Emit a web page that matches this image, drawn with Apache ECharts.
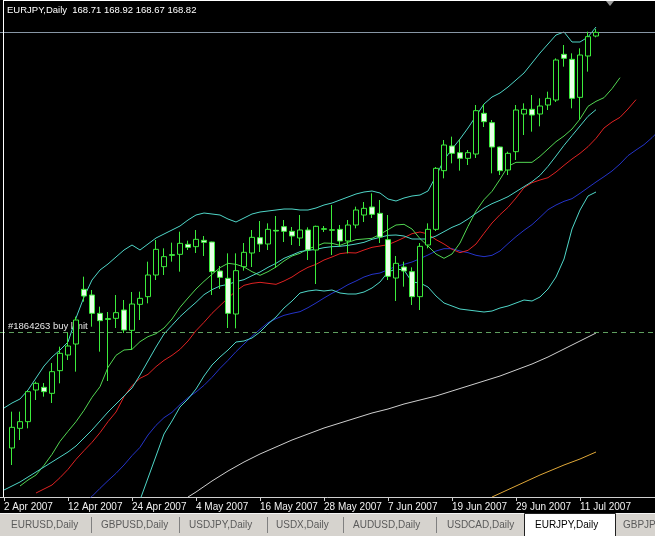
<!DOCTYPE html>
<html><head><meta charset="utf-8">
<script src="https://cdn.jsdelivr.net/npm/echarts@6/dist/echarts.min.js"></script>
<style>html,body{margin:0;padding:0;background:#000;}#c{width:655px;height:536px;}</style>
</head><body><div id="c"></div>
<script>
// ---------- data ----------
const symbolTitle = 'EURJPY,Daily';
const lastQuote = [168.71, 168.92, 168.67, 168.82]; // O H L C of last bar
const bidPrice = 168.82;
const buyLimitPrice = 159.83;
const buyLimitLabel = '#1864263 buy limit';
const barCount = 83;                 // 2 Apr 2007 + future (chart shift)
const tickIdx = [0, 8, 16, 24, 32, 40, 48, 56, 64, 72];
const tabs = ['EURUSD,Daily','GBPUSD,Daily','USDJPY,Daily','USDX,Daily','AUDUSD,Daily','USDCAD,Daily','EURJPY,Daily','GBPJPY,Daily'];
const activeTab = 6;

// candles from 3 Apr 2007 (index 1): [open, close, low, high]
const candles = [
[156.35,156.97,155.84,157.44],[156.94,157.14,156.59,157.44],[157.14,158.04,156.94,158.06],[158.09,158.29,157.79,158.34],
[158.17,158.04,157.89,158.30],[157.99,158.64,157.70,158.90],[158.67,159.19,158.29,159.39],[159.14,159.41,158.99,159.80],
[159.47,160.19,158.64,160.29],[161.11,160.91,160.74,161.49],[160.94,160.39,159.99,161.09],[160.39,160.17,159.24,160.59],
[160.23,160.21,158.36,160.43],[160.24,160.41,159.95,160.94],[160.49,159.89,159.80,160.79],[159.88,160.67,159.29,161.03],
[160.66,160.84,160.19,161.04],[160.89,161.54,160.69,161.94],[161.54,162.31,161.39,162.59],[161.79,162.09,161.54,162.34],
[162.15,162.13,161.94,162.51],[162.16,162.49,161.64,162.84],[162.46,162.37,162.29,162.57],[162.39,162.61,162.20,162.89],
[162.58,162.52,162.11,162.71],[162.53,161.64,160.94,162.54],[161.66,161.47,161.12,161.81],[161.44,160.39,159.95,162.19],
[160.37,161.67,159.94,162.19],[161.79,162.22,161.67,162.50],[162.20,162.67,161.78,162.89],[162.66,162.47,162.23,163.16],
[162.47,162.91,162.29,163.09],[162.88,162.86,161.75,163.31],[162.99,162.85,162.53,163.19],[162.85,162.71,162.44,162.98],
[162.65,162.89,162.41,163.34],[162.89,162.29,161.99,162.97],[162.29,163.00,161.27,163.02],[162.91,162.93,162.83,163.01],
[162.88,162.90,162.14,163.64],[162.91,162.56,162.39,163.04],[162.56,163.04,162.19,163.19],[163.04,163.49,162.94,163.59],
[163.34,163.54,163.13,163.73],[163.58,163.36,163.25,163.99],[163.39,162.68,162.50,163.79],[162.60,161.50,161.39,163.34],
[161.45,161.89,160.76,162.11],[161.78,161.66,161.19,161.94],[161.64,160.89,160.64,161.77],[160.89,162.40,160.49,162.50],
[162.44,162.91,162.34,163.09],[162.91,164.74,162.86,164.78],[164.67,165.44,164.44,165.59],[165.41,165.19,164.89,165.69],
[165.21,165.04,164.67,165.61],[165.04,165.21,164.84,165.29],[165.17,166.47,165.05,166.64],[166.39,166.14,165.98,166.67],
[166.11,165.38,164.59,166.19],[165.38,164.67,164.54,165.39],[164.69,165.19,164.54,165.24],[165.24,166.49,164.99,166.64],
[166.37,166.51,165.74,166.69],[166.51,166.34,165.84,166.94],[166.37,166.61,166.00,166.84],[166.64,166.84,166.49,167.04],
[166.79,167.99,166.73,168.04],[168.16,168.04,167.79,168.44],[168.01,166.84,166.54,168.19],[166.87,168.14,166.19,168.34],
[168.11,168.69,167.64,168.84],[168.71,168.82,168.67,168.92]
];

// Bollinger bands (cyan)
const bbUpperStart = 0;
const bbUpper = [157.55,157.70,157.82,158.09,158.45,158.81,159.08,159.29,159.53,160.25,160.88,161.39,161.69,161.87,162.08,162.29,162.44,162.29,162.47,162.65,
162.77,162.89,163.01,163.19,163.34,163.40,163.37,163.34,163.22,163.13,163.25,163.37,163.43,163.46,163.49,163.52,163.52,163.49,163.49,163.55,
163.64,163.70,163.79,163.88,163.97,164.03,164.06,164.00,163.82,163.76,163.85,163.91,163.94,164.06,164.51,164.99,165.32,165.62,165.95,166.31,
166.67,166.88,167.00,167.18,167.39,167.60,167.90,168.20,168.47,168.74,168.83,168.53,168.53,168.68,168.98];
const bbMidStart = 0;
const bbMid = [155.09,155.21,155.33,155.48,155.63,155.78,155.93,156.08,156.23,156.41,156.65,156.89,157.16,157.43,157.67,157.91,158.15,158.54,158.96,159.38,
159.77,160.03,160.29,160.51,160.72,160.95,161.10,161.21,161.26,161.34,161.40,161.52,161.63,161.77,161.89,162.04,162.14,162.24,162.28,162.31,
162.36,162.39,162.40,162.43,162.47,162.52,162.61,162.67,162.73,162.74,162.71,162.62,162.62,162.62,162.71,162.84,162.97,163.07,163.22,163.39,
163.55,163.68,163.78,163.89,164.04,164.19,164.34,164.53,164.80,165.11,165.43,165.72,166.01,166.30,166.50];
const bbLowStart = 17;
const bbLow = [154.79,155.45,156.11,156.77,157.16,157.58,157.82,158.12,158.51,158.84,159.08,159.29,159.53,159.56,159.65,159.83,160.07,160.28,160.55,160.76,
161.00,161.06,161.09,161.06,161.09,161.00,160.97,160.97,161.03,161.15,161.33,161.63,161.72,161.69,161.33,161.30,161.18,160.91,160.70,160.61,
160.52,160.49,160.46,160.43,160.46,160.55,160.61,160.70,160.79,160.76,160.88,161.12,161.48,162.02,162.92,163.49,163.91,164.03];

// Alligator: lips (green), teeth (red), jaw (blue) — drawn with their forward shift
const lipsStart = 2;
const lips = [155.21,155.39,155.54,155.83,156.16,156.55,156.85,157.14,157.48,157.87,158.19,158.77,159.13,159.29,159.31,159.54,159.69,159.78,159.95,160.22,
160.57,160.85,161.12,161.35,161.56,161.76,161.89,161.86,161.78,161.64,161.53,161.64,161.78,161.96,162.11,162.19,162.33,162.40,162.50,162.49,
162.43,162.52,162.60,162.62,162.64,162.76,162.90,163.04,163.06,162.92,162.63,162.41,162.17,162.04,162.17,162.50,163.00,163.46,163.80,164.05,
164.41,164.80,164.92,164.92,164.92,165.10,165.32,165.54,165.71,165.92,166.22,166.60,166.75,166.86,167.13,167.46];
const teethStart = 4;
const teeth = [155.00,155.12,155.24,155.46,155.71,156.01,156.27,156.52,156.81,157.14,157.43,157.89,158.22,158.44,158.56,158.79,158.98,159.13,159.31,159.56,
159.87,160.12,160.39,160.62,160.85,161.06,161.23,161.29,161.32,161.29,161.26,161.36,161.48,161.64,161.77,161.86,161.99,162.08,162.18,162.21,
162.20,162.29,162.37,162.41,162.45,162.55,162.66,162.78,162.83,162.77,162.60,162.47,162.31,162.21,162.28,162.47,162.79,163.10,163.35,163.57,
163.85,164.16,164.31,164.39,164.46,164.63,164.83,165.02,165.19,165.39,165.64,165.95,166.13,166.27,166.52,166.80];
const jawStart = 9;
const jaw = [154.49,154.69,154.90,155.14,155.37,155.59,155.84,156.12,156.37,156.74,157.03,157.26,157.42,157.65,157.86,158.03,158.23,158.47,158.74,158.98,
159.24,159.47,159.70,159.91,160.11,160.23,160.33,160.39,160.44,160.56,160.70,160.85,160.99,161.11,161.25,161.36,161.48,161.56,161.60,161.70,
161.80,161.86,161.93,162.03,162.14,162.26,162.33,162.33,162.26,162.21,162.13,162.09,162.13,162.26,162.48,162.69,162.88,163.05,163.27,163.50,
163.64,163.75,163.83,163.99,164.16,164.33,164.49,164.66,164.87,165.12,165.29,165.45,165.66,165.90];

// long moving averages: [barIndex, price]
const maWhite = [[23,154.88],[24,155.03],[26,155.36],[28,155.66],[30,155.93],[32,156.17],[34,156.38],[36,156.59],[38,156.77],[40,156.95],
[42,157.10],[44,157.25],[46,157.40],[48,157.52],[50,157.67],[52,157.79],[54,157.91],[56,158.06],[58,158.21],[60,158.36],[62,158.51],
[64,158.69],[66,158.87],[68,159.08],[70,159.32],[72,159.56],[74,159.80]];
const maOrange = [[61,154.88],[64,155.21],[67,155.54],[70,155.84],[72,156.02],[74,156.23]];

// ---------- build ----------
const months = ['Jan','Feb','Mar','Apr','May','Jun','Jul','Aug','Sep','Oct','Nov','Dec'];
const categories = [];
{ const d = new Date(Date.UTC(2007,3,2));
  while (categories.length < barCount) {
    const wd = d.getUTCDay();
    if (wd !== 0 && wd !== 6) categories.push(d.getUTCDate() + ' ' + months[d.getUTCMonth()] + ' ' + d.getUTCFullYear());
    d.setUTCDate(d.getUTCDate() + 1);
  } }
const seq = (start, arr) => arr.map((v, i) => [start + i, v]);
const candleData = ['-'].concat(candles);

const FONT = 'Liberation Sans';
const lineS = (name, data, color) => ({
  name, type: 'line', data, showSymbol: false, symbol: 'none', silent: true,
  lineStyle: { color, width: 1 }, z: 3, animation: false
});

const chart = echarts.init(document.getElementById('c'), null, { renderer: 'canvas' });
const tabX = [11, 101, 189, 276, 353, 447, 535, 623];
const sepX = [91, 179, 267, 343, 436];
const graphics = [
  { type: 'rect', shape: { x: 0, y: 513, width: 655, height: 23 }, style: { fill: '#d6d3ce' }, z: 10 },
  { type: 'line', shape: { x1: 0, y1: 513.5, x2: 655, y2: 513.5 }, style: { stroke: '#f4f4f4', lineWidth: 1 }, z: 11 },
  { type: 'rect', shape: { x: 524.5, y: 513.5, width: 91, height: 23 }, style: { fill: '#ffffff', stroke: '#202020', lineWidth: 1 }, z: 11 },
  { type: 'line', shape: { x1: 3.5, y1: 0, x2: 3.5, y2: 497 }, style: { stroke: '#ffffff', lineWidth: 1 }, z: 20 },
  { type: 'line', shape: { x1: 3, y1: 0.5, x2: 655, y2: 0.5 }, style: { stroke: '#ffffff', lineWidth: 1 }, z: 20 },
  { type: 'polygon', shape: { points: [[606, 1], [614, 1], [610, 6]] }, style: { fill: '#9a9a9a' }, z: 20 },
  { type: 'text', x: 7, y: 10, style: { text: symbolTitle + '  ' + lastQuote.map(v => v.toFixed(2)).join(' '),
      fill: '#ffffff', fontSize: 9.5, fontFamily: FONT, verticalAlign: 'middle' }, z: 20 }
];
sepX.forEach(x => graphics.push({ type: 'line', shape: { x1: x + 0.5, y1: 517, x2: x + 0.5, y2: 533 }, style: { stroke: '#808080', lineWidth: 1 }, z: 12 }));
tabs.forEach((t, i) => graphics.push({ type: 'text', x: tabX[i], y: 525, style: { text: t, fill: i === activeTab ? '#000000' : '#5a5a5a',
  fontSize: 10, fontFamily: FONT, verticalAlign: 'middle' }, z: 13 }));

chart.setOption({
  animation: false,
  backgroundColor: '#000000',
  grid: { left: 0, top: 1, width: barCount * 8, height: 496, containLabel: false, outerBoundsMode: 'none' },
  xAxis: {
    type: 'category', data: categories, boundaryGap: true,
    axisLine: { show: true, lineStyle: { color: '#d0d0d0', width: 1 } },
    axisTick: { show: true, alignWithLabel: true, length: 4, lineStyle: { color: '#d0d0d0' },
      interval: (i) => tickIdx.includes(i) },
    axisLabel: { show: true, color: '#f0f0f0', fontSize: 10, fontFamily: FONT, align: 'left', margin: 5,
      interval: (i) => tickIdx.includes(i) },
    splitLine: { show: false }
  },
  yAxis: { type: 'value', min: 154.88, max: 169.76, show: false, splitLine: { show: false } },
  series: [
    lineS('maWhite', maWhite, '#cfcfcf'),
    lineS('maOrange', maOrange, '#e0a838'),
    lineS('jaw', seq(jawStart, jaw), '#2433c8'),
    lineS('teeth', seq(teethStart, teeth), '#e02222'),
    lineS('lips', seq(lipsStart, lips), '#52d652'),
    lineS('bbUpper', seq(bbUpperStart, bbUpper), '#4fd6c8'),
    lineS('bbMid', seq(bbMidStart, bbMid), '#4fd6c8'),
    lineS('bbLow', seq(bbLowStart, bbLow), '#4fd6c8'),
    {
      type: 'candlestick', data: candleData, barWidth: 5, z: 5, silent: true,
      itemStyle: { color: '#000000', color0: '#eaffea', borderColor: '#3cec3c', borderColor0: '#3cec3c', borderWidth: 1 },
      markLine: {
        silent: true, symbol: ['none', 'none'], animation: false,
        data: [
          { yAxis: bidPrice, lineStyle: { color: '#8796a5', type: 'solid', width: 1 }, label: { show: false } },
          { yAxis: buyLimitPrice, lineStyle: { color: '#5f9f5f', type: [5, 4], width: 1 },
            label: { show: true, position: 'insideStartTop', formatter: buyLimitLabel, color: '#e8e8e8',
              fontSize: 9.5, fontFamily: FONT, distance: [8, 1] } }
        ]
      }
    }
  ],
  graphic: graphics
});
</script></body></html>
